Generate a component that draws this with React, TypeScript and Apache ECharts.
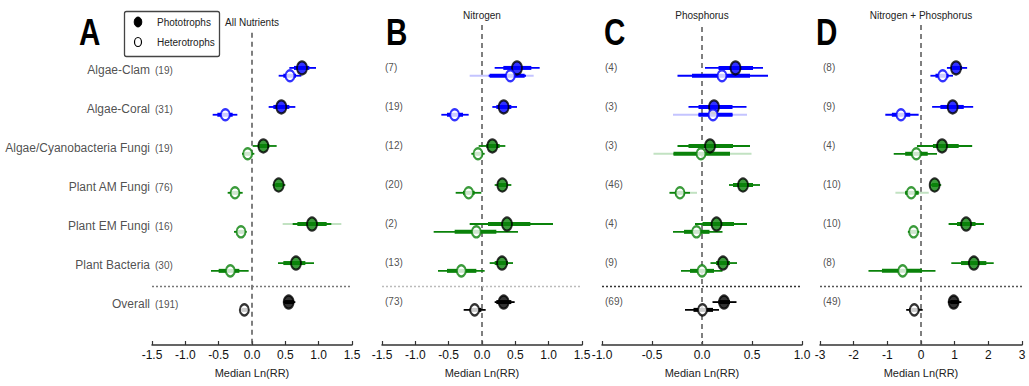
import React, { useEffect, useRef } from "react";
import * as echarts from "echarts";

const FONT = "'Liberation Sans', Arial, Helvetica, sans-serif";

const rowNames = ["Algae-Clam", "Algae-Coral", "Algae/Cyanobacteria Fungi", "Plant AM Fungi", "Plant EM Fungi", "Plant Bacteria", "Overall"];
const rowGroups = ["blue", "blue", "green", "green", "green", "green", "black"];

const panelLetters = ["A", "B", "C", "D"];
const panelTitles = ["All Nutrients", "Nitrogen", "Phosphorus", "Nitrogen + Phosphorus"];
const panelRanges = [[-1.5, 1.5, 0.5], [-1.5, 1.5, 0.5], [-1.0, 1.0, 0.5], [-3, 3, 1]];

const countsA = [19, 31, 19, 76, 16, 30, 191];
const countsB = [7, 19, 12, 20, 2, 13, 73];
const countsC = [4, 3, 3, 46, 4, 9, 69];
const countsD = [8, 9, 4, 10, 10, 8, 49];

// [median, thickLo, thickHi, thinLo, thinHi, faintLo, faintHi]
const photoA = [
  [0.75, 0.63, 0.86, 0.56, 0.96, null, null],
  [0.44, 0.32, 0.56, 0.25, 0.65, null, null],
  [0.17, 0.09, 0.26, 0.01, 0.37, null, null],
  [0.40, 0.35, 0.46, 0.31, 0.50, null, null],
  [0.90, 0.68, 1.12, 0.61, 1.19, 0.46, 1.34],
  [0.66, 0.47, 0.80, 0.39, 0.93, null, null],
  [0.55, 0.49, 0.63, 0.47, 0.65, null, null],
];
const heteroA = [
  [0.57, 0.47, 0.66, 0.40, 0.74, null, null],
  [-0.40, -0.52, -0.29, -0.59, -0.22, null, null],
  [-0.065, -0.11, -0.01, -0.15, 0.035, null, null],
  [-0.255, -0.31, -0.19, -0.365, -0.14, null, null],
  [-0.165, -0.22, -0.11, -0.27, -0.08, null, null],
  [-0.325, -0.50, -0.19, -0.615, -0.05, null, null],
  [-0.115, -0.155, -0.065, -0.17, -0.05, null, null],
];
const photoB = [
  [0.525, 0.32, 0.74, 0.19, 0.865, null, null],
  [0.325, 0.215, 0.44, 0.155, 0.525, null, null],
  [0.155, 0.065, 0.265, -0.05, 0.35, null, null],
  [0.305, 0.24, 0.375, 0.19, 0.44, null, null],
  [0.375, 0.09, 0.725, -0.185, 1.065, null, null],
  [0.30, 0.19, 0.39, 0.115, 0.465, null, null],
  [0.325, 0.215, 0.44, 0.19, 0.49, null, null],
];
const heteroB = [
  [0.425, 0.115, 0.64, 0.10, 0.66, -0.185, 0.775],
  [-0.41, -0.525, -0.285, -0.61, -0.20, null, null],
  [-0.06, -0.11, -0.01, -0.16, 0.04, null, null],
  [-0.20, -0.285, -0.11, -0.395, -0.01, null, null],
  [-0.085, -0.41, 0.215, -0.725, 0.54, null, null],
  [-0.31, -0.525, -0.085, -0.66, 0.04, null, null],
  [-0.11, -0.185, -0.01, -0.275, 0.055, null, null],
];
const photoC = [
  [0.335, 0.165, 0.51, 0.03, 0.61, null, null],
  [0.12, -0.035, 0.305, -0.135, 0.445, null, null],
  [0.08, -0.135, 0.31, -0.245, 0.48, null, null],
  [0.41, 0.31, 0.51, 0.27, 0.58, null, null],
  [0.145, 0.005, 0.32, -0.07, 0.45, null, null],
  [0.21, 0.14, 0.28, 0.085, 0.35, null, null],
  [0.22, 0.165, 0.28, 0.105, 0.345, null, null],
];
const heteroC = [
  [0.20, -0.10, 0.48, -0.245, 0.66, null, null],
  [0.11, -0.035, 0.305, -0.035, 0.305, -0.29, 0.45],
  [-0.01, -0.285, 0.28, -0.285, 0.28, -0.485, 0.495],
  [-0.22, -0.27, -0.17, -0.325, -0.12, -0.325, -0.05],
  [-0.055, -0.18, 0.075, -0.29, 0.205, null, null],
  [0.0, -0.12, 0.12, -0.21, 0.205, null, null],
  [0.005, -0.085, 0.11, -0.17, 0.17, null, null],
];
const photoD = [
  [1.04, 0.89, 1.22, 0.77, 1.37, null, null],
  [0.94, 0.575, 1.27, 0.33, 1.55, null, null],
  [0.625, 0.355, 1.12, -0.12, 1.52, null, null],
  [0.405, 0.33, 0.50, 0.28, 0.60, null, null],
  [1.34, 1.07, 1.62, 0.82, 1.87, null, null],
  [1.57, 1.19, 1.94, 0.90, 2.16, null, null],
  [0.97, 0.87, 1.12, 0.80, 1.20, null, null],
];
const heteroD = [
  [0.645, 0.43, 0.82, 0.28, 0.95, null, null],
  [-0.595, -0.865, -0.32, -1.06, -0.07, null, null],
  [-0.14, -0.47, 0.20, -0.81, 0.475, null, null],
  [-0.29, -0.47, -0.07, -0.47, -0.07, -0.76, 0.23],
  [-0.22, -0.32, -0.12, -0.39, -0.05, null, null],
  [-0.545, -1.16, 0.03, -1.56, 0.43, null, null],
  [-0.20, -0.35, -0.05, -0.44, 0.05, null, null],
];

const panelCounts = [countsA, countsB, countsC, countsD];
const panelPhoto = [photoA, photoB, photoC, photoD];
const panelHetero = [heteroA, heteroB, heteroC, heteroD];

const COLORS: Record<string, string> = { blue: "#0000ff", green: "#0a820a", black: "#000000" };
const FAINT: Record<string, string> = { blue: "#c4c4ff", green: "#c2e2c2", black: "#bbbbbb" };

const gridLefts = [152, 382, 602, 820];
const gridWidths = [200, 200, 200, 202];
const sepColors = ["#777777", "#bbbbbb", "#333333", "#555555"];
const zeroStart = [0, -0.2, -0.15, -0.2];
const OFF = 0.1;

function buildOption() {
  const grid: any[] = [];
  const xAxis: any[] = [];
  const yAxis: any[] = [];
  const series: any[] = [];
  const title: any[] = [];
  const graphic: any[] = [];

  for (let p = 0; p < 4; p++) {
    const [mn, mx, iv] = panelRanges[p];
    grid.push({ left: gridLefts[p], width: gridWidths[p], top: 25, height: 320 });
    xAxis.push({
      gridIndex: p, type: "value", min: mn, max: mx, interval: iv, position: "bottom",
      splitLine: { show: false },
      axisLine: { show: true, onZero: false, lineStyle: { color: "#333", width: 1.5 } },
      axisTick: { show: true, inside: true, length: 4, lineStyle: { color: "#333", width: 1.2 } },
      axisLabel: {
        margin: 4, color: "#111", fontSize: 12, fontFamily: FONT,
        formatter: (v: number) => (p === 3 ? String(Math.round(v)) : v.toFixed(1)),
      },
      name: "Median Ln(RR)", nameLocation: "middle", nameGap: 22,
      nameTextStyle: { color: "#222", fontSize: 11, fontFamily: FONT },
    });
    yAxis.push({ gridIndex: p, type: "value", min: -0.2, max: 8, inverse: true, show: false });

    // zero dashed line
    series.push({
      type: "line", xAxisIndex: p, yAxisIndex: p, symbol: "none", silent: true, clip: false,
      data: [[0, zeroStart[p]], [0, 8]],
      lineStyle: { color: "#555", width: 1.5, type: [5, 4] }, z: 1,
    });
    // separator dotted
    series.push({
      type: "line", xAxisIndex: p, yAxisIndex: p, symbol: "none", silent: true,
      data: [[mn, 6.5], [mx, 6.5]],
      lineStyle: { color: sepColors[p], width: 1.5, type: [2, 2] }, z: 1,
    });

    // CI segments
    const segs: any[] = [];
    const addRows = (rows: any[], off: number) => {
      rows.forEach((r, i) => {
        const y = i + 1 + off;
        const g = rowGroups[i];
        if (r[5] != null) segs.push({ lo: r[5], hi: r[6], y, color: FAINT[g], w: 2, z: 0 });
        segs.push({ lo: r[3], hi: r[4], y, color: COLORS[g], w: 1.8, z: 1 });
        segs.push({ lo: r[1], hi: r[2], y, color: COLORS[g], w: 4, z: 2 });
      });
    };
    addRows(panelPhoto[p], -OFF);
    addRows(panelHetero[p], OFF);
    segs.sort((a, b) => a.z - b.z);
    series.push({
      type: "custom", xAxisIndex: p, yAxisIndex: p, silent: true, z: 2,
      data: segs.map((s) => [s.lo, s.hi, s.y]),
      encode: { x: [0, 1], y: 2 },
      renderItem: (params: any, api: any) => {
        const s = segs[params.dataIndex];
        const p1 = api.coord([api.value(0), api.value(2)]);
        const p2 = api.coord([api.value(1), api.value(2)]);
        return {
          type: "line",
          shape: { x1: p1[0], y1: p1[1], x2: p2[0], y2: p2[1] },
          style: { stroke: s.color, lineWidth: s.w, lineCap: "butt" },
        };
      },
    });

    // medians
    series.push({
      type: "scatter", xAxisIndex: p, yAxisIndex: p, silent: true, z: 5,
      data: panelPhoto[p].map((r, i) => ({
        value: [r[0], i + 1 - OFF],
        symbolSize: [10, 13],
        itemStyle: { color: COLORS[rowGroups[i]], borderColor: "#000", borderWidth: 2 },
      })),
    });
    series.push({
      type: "scatter", xAxisIndex: p, yAxisIndex: p, silent: true, z: 5,
      data: panelHetero[p].map((r, i) => ({
        value: [r[0], i + 1 + OFF],
        symbolSize: [9, 11],
        itemStyle: { color: "#fff", borderColor: COLORS[rowGroups[i]], borderWidth: 2.2 },
      })),
    });

    // counts
    series.push({
      type: "scatter", xAxisIndex: p, yAxisIndex: p, silent: true, symbolSize: 0, z: 6,
      data: panelCounts[p].map((c, i) => [mn, i + 1 + (p === 0 ? -0.03 : -0.12)]),
      label: {
        show: true, position: "right", distance: 3, color: "#222", fontSize: 10, fontFamily: FONT,
        formatter: (prm: any) => "(" + panelCounts[p][prm.dataIndex] + ")",
      },
    });

    title.push({
      text: panelTitles[p], left: gridLefts[p] + gridWidths[p] / 2, top: p === 0 ? 17 : 10,
      textAlign: "center", padding: 0,
      textStyle: { fontSize: 10, fontWeight: "normal", color: "#222", fontFamily: FONT },
    });
  }

  // row names in panel A
  series.push({
    type: "scatter", xAxisIndex: 0, yAxisIndex: 0, silent: true, symbolSize: 0, z: 6,
    data: rowNames.map((n, i) => [-1.5, i + 1 - 0.05]),
    label: {
      show: true, position: "left", distance: 2, color: "#222", fontSize: 12, fontFamily: FONT,
      formatter: (prm: any) => rowNames[prm.dataIndex],
    },
  });

  const letterX = [79, 386, 604, 816];
  panelLetters.forEach((L, i) => {
    graphic.push({
      type: "text", x: letterX[i], y: 32, scaleX: 0.8, originX: 0, originY: 0,
      style: { text: L, fontSize: 37, fontWeight: "bold", fill: "#000", fontFamily: FONT, verticalAlign: "middle" },
    });
  });

  // legend box
  graphic.push({
    type: "rect", shape: { x: 124.5, y: 11.5, width: 95, height: 45, r: 2 },
    style: { fill: "#fff", stroke: "#444", lineWidth: 1.3 },
  });
  graphic.push({ type: "ellipse", shape: { cx: 138, cy: 22, rx: 3.8, ry: 5 }, style: { fill: "#000", stroke: "#000", lineWidth: 1 } });
  graphic.push({ type: "ellipse", shape: { cx: 138, cy: 42, rx: 3.5, ry: 4.5 }, style: { fill: "#fff", stroke: "#000", lineWidth: 1.2 } });
  graphic.push({ type: "text", x: 157, y: 22, style: { text: "Phototrophs", fontSize: 10, fill: "#222", fontFamily: FONT, verticalAlign: "middle" } });
  graphic.push({ type: "text", x: 157, y: 42, style: { text: "Heterotrophs", fontSize: 10, fill: "#222", fontFamily: FONT, verticalAlign: "middle" } });

  return { animation: false, backgroundColor: "#fff", grid, xAxis, yAxis, series, title, graphic };
}

export default function App() {
  const ref = useRef<HTMLDivElement>(null);
  useEffect(() => {
    if (!ref.current) return;
    const chart = echarts.init(ref.current, undefined, { renderer: "svg" });
    chart.setOption(buildOption() as any);
    return () => chart.dispose();
  }, []);
  return <div ref={ref} style={{ position: "absolute", left: 0, top: 0, width: 1029, height: 386 }} />;
}
